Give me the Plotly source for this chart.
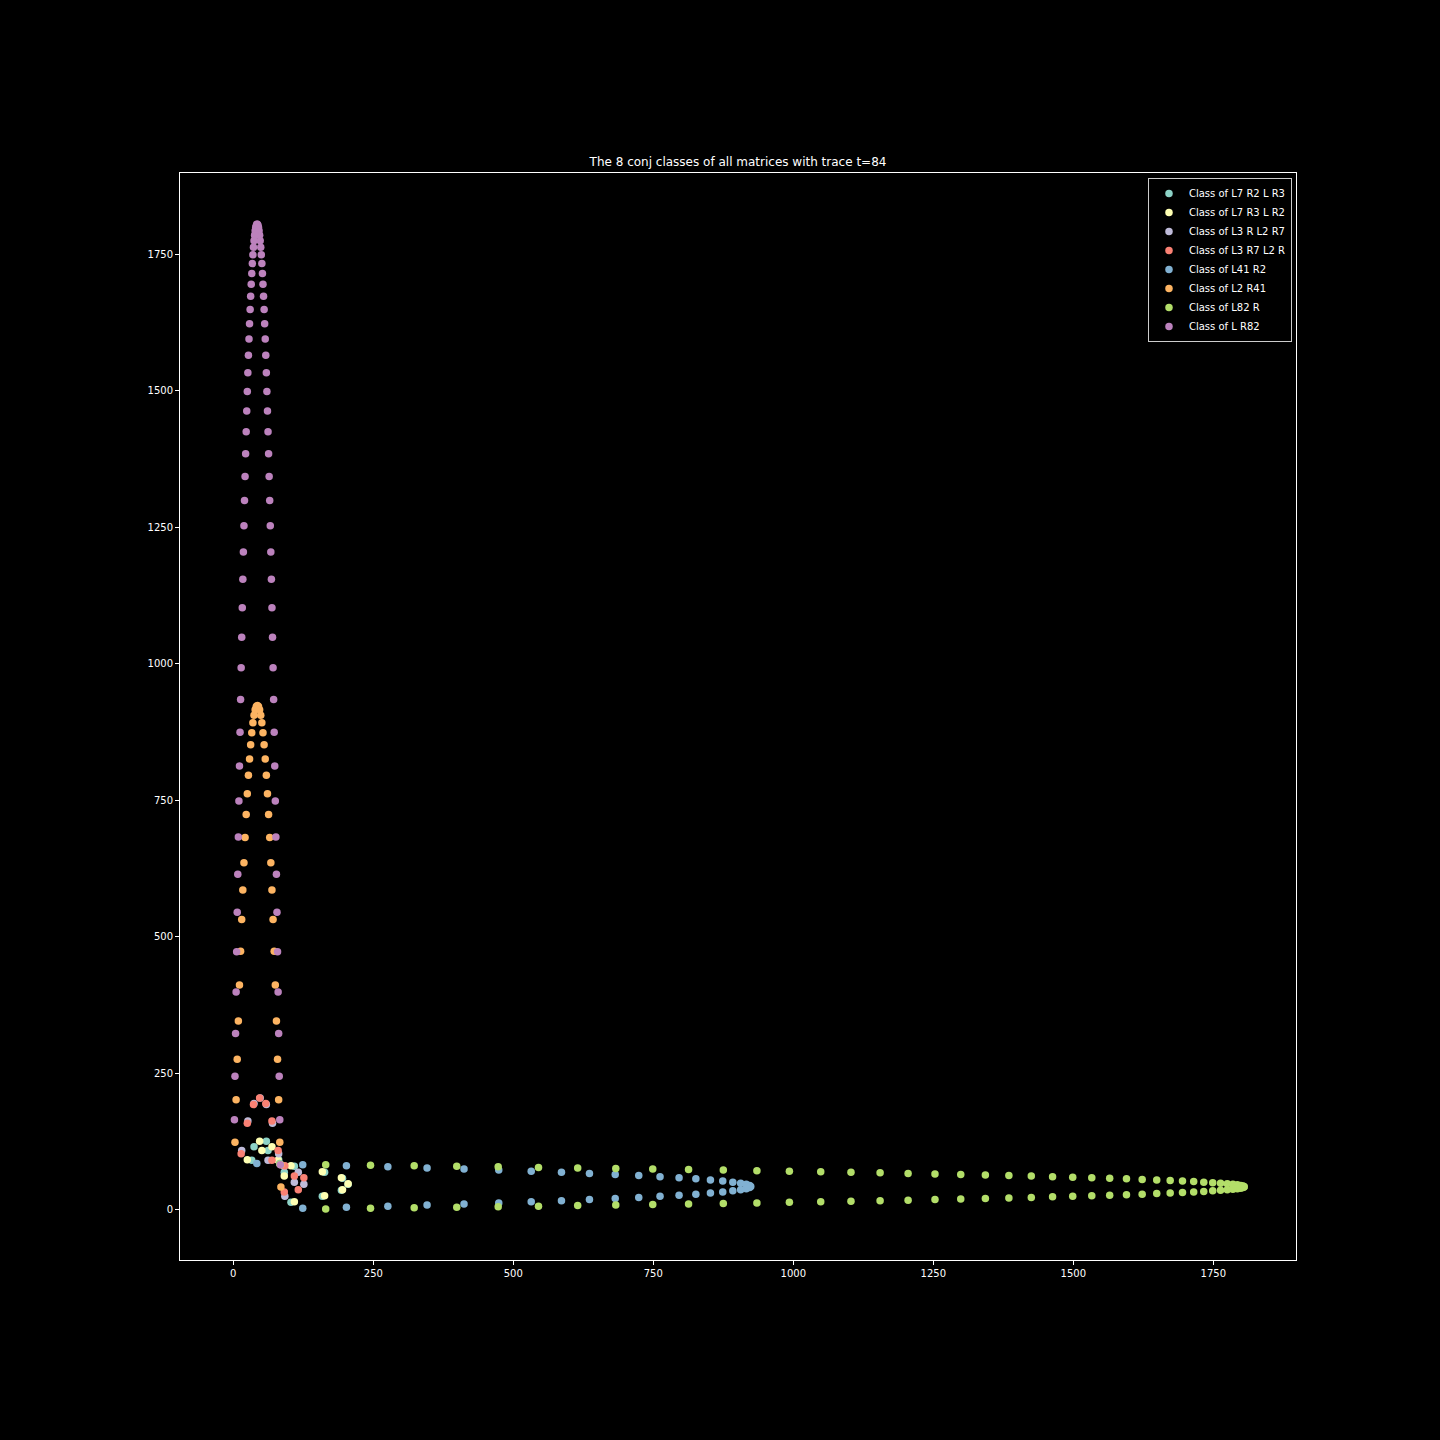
import plotly.graph_objects as go

# Class of L7 R2 L R3
c1_x = [103, 159, 193, 205, 195, 163, 109, 33, 62, 91, 37, 59, 81]
c1_y = [14, 25, 36, 47, 58, 69, 80, 91, 109, 69, 116, 126, 92]
# Class of L7 R3 L R2
c2_x = [109, 163, 195, 205, 193, 159, 103, 25, 47, 69, 91, 51, 80]
c2_y = [15, 26, 37, 48, 59, 70, 81, 92, 126, 116, 62, 109, 91]
# Class of L3 R L2 R7
c3_x = [92, 126, 116, 62, 109, 91, 15, 26, 37, 48, 59, 70, 81]
c3_y = [25, 47, 69, 91, 51, 80, 109, 163, 195, 205, 193, 159, 103]
# Class of L3 R7 L2 R
c4_x = [14, 25, 36, 47, 58, 69, 80, 91, 109, 69, 116, 126, 92]
c4_y = [103, 159, 193, 205, 195, 163, 109, 33, 62, 91, 37, 59, 81]

# Class of L41 R2
c5_x = [42, 124, 202, 276, 346, 412, 474, 532, 586, 636, 682, 724, 762, 796, 826,
        852, 874, 892, 906, 916, 922, 924, 922, 916, 906, 892, 874, 852, 826, 796,
        762, 724, 682, 636, 586, 532, 474, 412, 346, 276, 202, 124, 83]
c5_y = [85, 83, 81, 79, 77, 75, 73, 71, 69, 67, 65, 63, 61, 59, 57, 55, 53, 51, 49,
        47, 45, 43, 41, 39, 37, 35, 33, 31, 29, 27, 25, 23, 21, 19, 17, 15, 13, 11,
        9, 7, 5, 3, 85]
# Class of L2 R41
c6_x = [85, 83, 81, 79, 77, 75, 73, 71, 69, 67, 65, 63, 61, 59, 57, 55, 53, 51, 49,
        47, 45, 43, 41, 39, 37, 35, 33, 31, 29, 27, 25, 23, 21, 19, 17, 15, 13, 11,
        9, 7, 5, 3, 85]
c6_y = [42, 124, 202, 276, 346, 412, 474, 532, 586, 636, 682, 724, 762, 796, 826,
        852, 874, 892, 906, 916, 922, 924, 922, 916, 906, 892, 874, 852, 826, 796,
        762, 724, 682, 636, 586, 532, 474, 412, 346, 276, 202, 124, 83]

# Class of L82 R
c7_x = [83, 165, 245, 323, 399, 473, 545, 615, 683, 749, 813, 875, 935, 993, 1049,
        1103, 1155, 1205, 1253, 1299, 1343, 1385, 1425, 1463, 1499, 1533, 1565, 1595,
        1623, 1649, 1673, 1695, 1715, 1733, 1749, 1763, 1775, 1785, 1793, 1799, 1803,
        1805, 1805, 1803, 1799, 1793, 1785, 1775, 1763, 1749, 1733, 1715, 1695, 1673,
        1649, 1623, 1595, 1565, 1533, 1499, 1463, 1425, 1385, 1343, 1299, 1253, 1205,
        1155, 1103, 1049, 993, 935, 875, 813, 749, 683, 615, 545, 473, 399, 323, 245, 165]
c7_y = [84, 83, 82, 81, 80, 79, 78, 77, 76, 75, 74, 73, 72, 71, 70, 69, 68, 67, 66,
        65, 64, 63, 62, 61, 60, 59, 58, 57, 56, 55, 54, 53, 52, 51, 50, 49, 48, 47,
        46, 45, 44, 43, 42, 41, 40, 39, 38, 37, 36, 35, 34, 33, 32, 31, 30, 29, 28,
        27, 26, 25, 24, 23, 22, 21, 20, 19, 18, 17, 16, 15, 14, 13, 12, 11, 10, 9, 8,
        7, 6, 5, 4, 3, 2]
# Class of L R82
c8_x = [84, 83, 82, 81, 80, 79, 78, 77, 76, 75, 74, 73, 72, 71, 70, 69, 68, 67, 66,
        65, 64, 63, 62, 61, 60, 59, 58, 57, 56, 55, 54, 53, 52, 51, 50, 49, 48, 47,
        46, 45, 44, 43, 42, 41, 40, 39, 38, 37, 36, 35, 34, 33, 32, 31, 30, 29, 28,
        27, 26, 25, 24, 23, 22, 21, 20, 19, 18, 17, 16, 15, 14, 13, 12, 11, 10, 9, 8,
        7, 6, 5, 4, 3, 2]
c8_y = [83, 165, 245, 323, 399, 473, 545, 615, 683, 749, 813, 875, 935, 993, 1049,
        1103, 1155, 1205, 1253, 1299, 1343, 1385, 1425, 1463, 1499, 1533, 1565, 1595,
        1623, 1649, 1673, 1695, 1715, 1733, 1749, 1763, 1775, 1785, 1793, 1799, 1803,
        1805, 1805, 1803, 1799, 1793, 1785, 1775, 1763, 1749, 1733, 1715, 1695, 1673,
        1649, 1623, 1595, 1565, 1533, 1499, 1463, 1425, 1385, 1343, 1299, 1253, 1205,
        1155, 1103, 1049, 993, 935, 875, 813, 749, 683, 615, 545, 473, 399, 323, 245, 165]

names = ["Class of L7 R2 L R3", "Class of L7 R3 L R2", "Class of L3 R L2 R7",
         "Class of L3 R7 L2 R", "Class of L41 R2", "Class of L2 R41",
         "Class of L82 R", "Class of L R82"]
colors = ["#8dd3c7", "#feffb3", "#bfbbd9", "#fa8174", "#81b1d2", "#fdb462",
          "#b3de69", "#bc82bd"]
series = [(c1_x, c1_y), (c2_x, c2_y), (c3_x, c3_y), (c4_x, c4_y),
          (c5_x, c5_y), (c6_x, c6_y), (c7_x, c7_y), (c8_x, c8_y)]

tick_vals = [0, 250, 500, 750, 1000, 1250, 1500, 1750]
tick_text = ["0", "250", "500", "750", "1000", "1250", "1500", "1750"]

FONT = "DejaVu Sans"
fig = go.Figure()
for (xs, ys), nm, col in zip(series, names, colors):
    fig.add_trace(go.Scatter(x=xs, y=ys, mode="markers", name=nm,
                             marker=dict(color=col, size=7.5, line=dict(width=0))))

axis_common = dict(showgrid=False, zeroline=False, showline=True, mirror=True,
                   linecolor="#ffffff", linewidth=1, ticks="outside", ticklen=4,
                   tickwidth=1, tickcolor="#ffffff",
                   tickfont=dict(family=FONT, size=10, color="#ffffff"),
                   tickmode="array", tickvals=tick_vals, ticktext=tick_text)

fig.update_layout(
    width=1440, height=1440,
    paper_bgcolor="#000000", plot_bgcolor="#000000",
    margin=dict(l=180, r=144, t=173, b=180),
    font=dict(family=FONT, size=10, color="#ffffff"),
    title=dict(text="The 8 conj classes of all matrices with trace t=84",
               x=0.5, xref="paper", xanchor="center",
               y=1 - 162 / 1440, yref="container", yanchor="middle",
               font=dict(family=FONT, size=12, color="#ffffff")),
    xaxis=dict(range=[-95.2, 1897.7], **axis_common),
    yaxis=dict(range=[-91.6, 1898.9], **axis_common),
    legend=dict(x=0.9964, y=0.9954, xanchor="right", yanchor="top",
                bgcolor="#000000", bordercolor="#cccccc", borderwidth=1,
                font=dict(family=FONT, size=10, color="#ffffff"),
                itemwidth=30),
    showlegend=True,
)

fig.write_html(
    "out.html",
    config={"displayModeBar": False},
    post_script="document.body.style.margin='0';document.body.style.background='#000';"
                "document.documentElement.style.overflow='hidden';",
)
